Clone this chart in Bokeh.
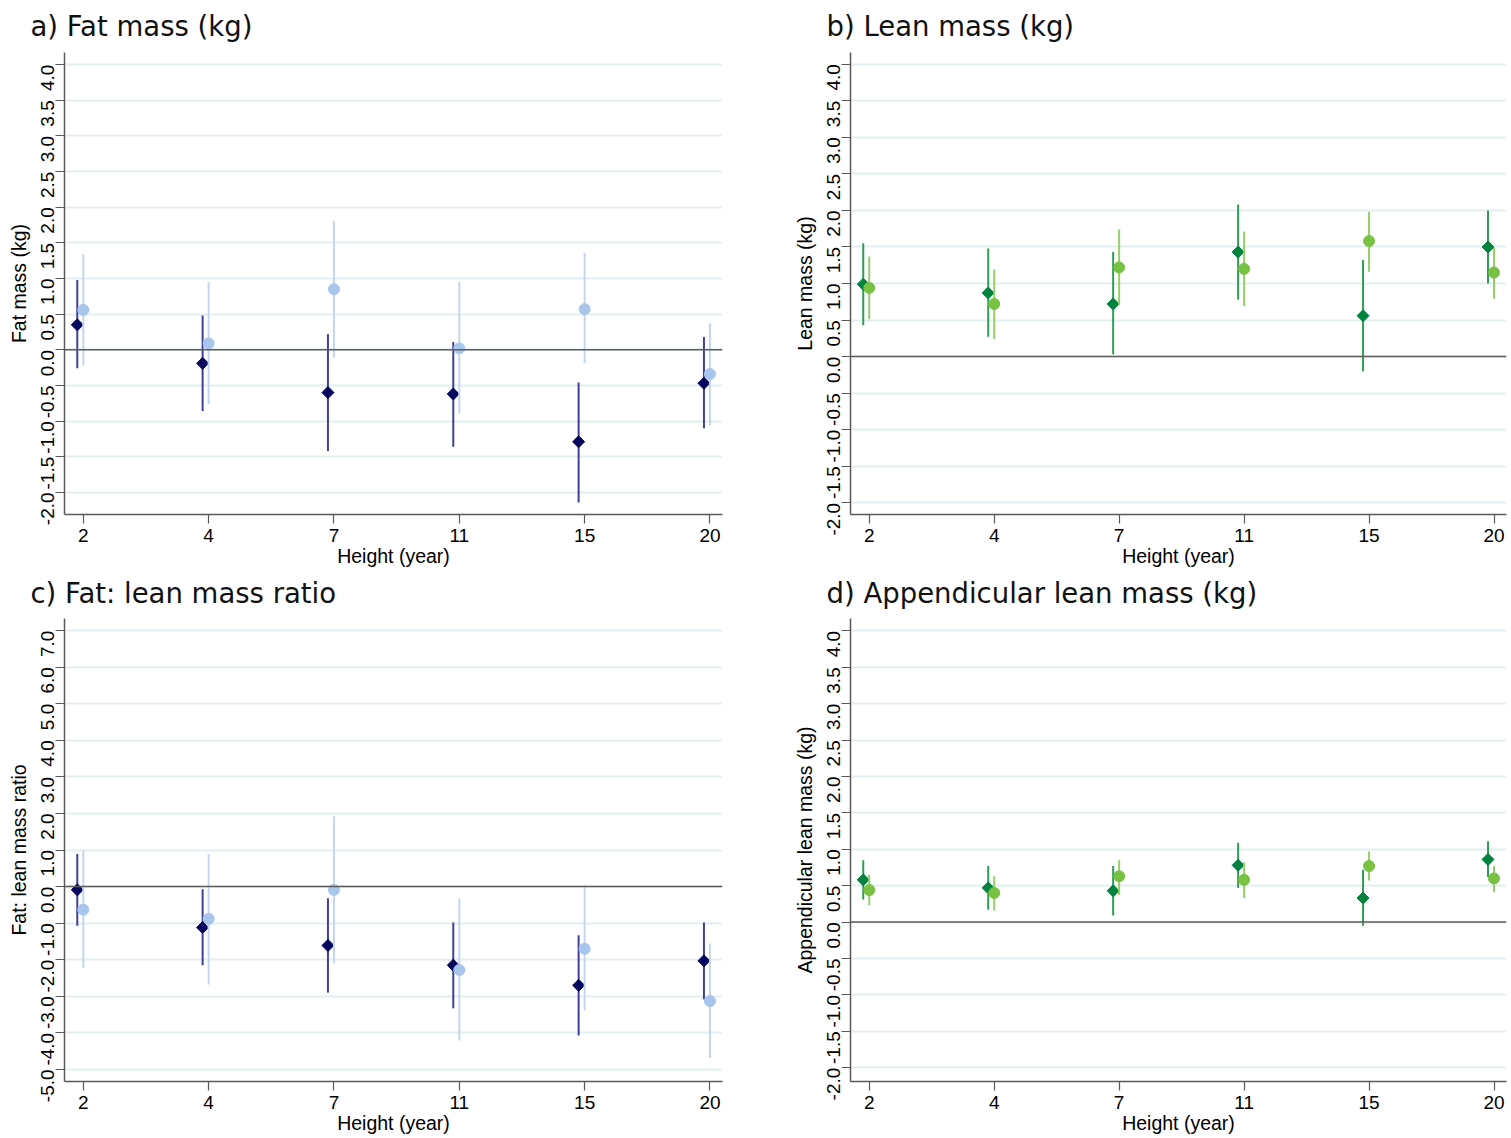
import numpy as np
from bokeh.plotting import figure
from bokeh.models import ColumnDataSource, Range1d, FixedTicker, NumeralTickFormatter, Span
from bokeh.layouts import column, row
from bokeh.embed import file_html
from bokeh.resources import INLINE
from bokeh.transform import dodge

# ---------------- data ----------------
years = ["2", "4", "7", "11", "15", "20"]

# a) Fat mass (kg)
fat_d = [0.35, -0.19, -0.60, -0.62, -1.29, -0.47]
fat_d_lo = [-0.26, -0.86, -1.42, -1.36, -2.14, -1.10]
fat_d_hi = [0.98, 0.48, 0.22, 0.11, -0.46, 0.18]
fat_c = [0.56, 0.09, 0.85, 0.02, 0.57, -0.34]
fat_c_lo = [-0.22, -0.76, -0.11, -0.89, -0.19, -1.06]
fat_c_hi = [1.34, 0.95, 1.81, 0.95, 1.36, 0.37]

# b) Lean mass (kg)
lean_d = [0.99, 0.87, 0.72, 1.43, 0.56, 1.50]
lean_d_lo = [0.43, 0.27, 0.03, 0.78, -0.20, 1.00]
lean_d_hi = [1.55, 1.48, 1.43, 2.08, 1.32, 2.00]
lean_c = [0.94, 0.72, 1.22, 1.20, 1.58, 1.15]
lean_c_lo = [0.51, 0.24, 0.71, 0.69, 1.16, 0.79]
lean_c_hi = [1.37, 1.19, 1.74, 1.71, 1.98, 1.49]

# c) Fat: lean mass ratio
ratio_d = [-0.09, -1.12, -1.61, -2.15, -2.70, -2.03]
ratio_d_lo = [-1.07, -2.15, -2.90, -3.33, -4.07, -3.08]
ratio_d_hi = [0.89, -0.07, -0.32, -0.98, -1.33, -0.98]
ratio_c = [-0.63, -0.88, -0.09, -2.28, -1.70, -3.13]
ratio_c_lo = [-2.23, -2.68, -2.10, -4.21, -3.38, -4.69]
ratio_c_hi = [0.98, 0.89, 1.92, -0.33, -0.01, -1.56]

# d) Appendicular lean mass (kg)
app_d = [0.58, 0.47, 0.43, 0.78, 0.33, 0.86]
app_d_lo = [0.31, 0.17, 0.09, 0.47, -0.05, 0.62]
app_d_hi = [0.85, 0.77, 0.77, 1.09, 0.72, 1.11]
app_c = [0.44, 0.40, 0.63, 0.58, 0.77, 0.60]
app_c_lo = [0.23, 0.16, 0.37, 0.33, 0.57, 0.41]
app_c_hi = [0.65, 0.63, 0.85, 0.82, 0.97, 0.77]

kg_ticks = [-2.0, -1.5, -1.0, -0.5, 0.0, 0.5, 1.0, 1.5, 2.0, 2.5, 3.0, 3.5, 4.0]
ratio_ticks = [-5.0, -4.0, -3.0, -2.0, -1.0, 0.0, 1.0, 2.0, 3.0, 4.0, 5.0, 6.0, 7.0]

blues = dict(d="#06065e", dbar="#40409a", c="#a8c5ec", cbar="#c3d6f1")
greens = dict(d="#00833e", dbar="#2f9e55", c="#78c142", cbar="#95d066")

AXIS_COL = "#5a5a5a"
TICK_FONT = "Liberation Sans"


def make_panel(title, ylabel, d, dlo, dhi, c, clo, chi, yr, yticks, cols,
               width, height, bl, br, bt, bb, toff, tstand):
    idx = list(range(len(years)))
    src = ColumnDataSource(dict(idx=idx, d=d, dlo=dlo, dhi=dhi, c=c, clo=clo, chi=chi))
    p = figure(width=width, height=height,
               x_range=Range1d(-0.15, 5.1), y_range=Range1d(*yr),
               output_backend="svg", toolbar_location=None,
               min_border_left=bl, min_border_right=br,
               min_border_top=bt, min_border_bottom=bb)
    p.outline_line_color = None
    p.background_fill_color = "white"
    p.border_fill_color = "white"

    # title
    p.title.text = title
    p.title.text_font = "DejaVu Sans"
    p.title.text_font_size = "27.5px"
    p.title.text_font_style = "normal"
    p.title.text_color = "#111111"
    p.title.text_line_height = 0.8
    p.title.offset = toff
    p.title.standoff = tstand
    p.title.vertical_align = "top"

    # grid
    p.xgrid.visible = False
    p.ygrid.ticker = FixedTicker(ticks=yticks)
    p.ygrid.grid_line_color = "#e4edf2"
    p.ygrid.grid_line_width = 2

    # zero line
    p.add_layout(Span(location=0, dimension="width", line_color="#5c5c5c", line_width=1.5))

    # axes
    for ax in (p.xaxis[0], p.yaxis[0]):
        ax.axis_line_color = AXIS_COL
        ax.axis_line_width = 1.5
        ax.major_tick_line_color = AXIS_COL
        ax.major_tick_line_width = 1.2
        ax.major_tick_out = 9
        ax.major_tick_in = 0
        ax.minor_tick_line_color = None
        ax.major_label_text_font = TICK_FONT
        ax.major_label_text_font_size = "19px"
        ax.major_label_text_color = "#000000"
        ax.axis_label_text_font = TICK_FONT
        ax.axis_label_text_font_size = "19.5px"
        ax.axis_label_text_font_style = "normal"
        ax.axis_label_text_color = "#000000"

    p.xaxis.ticker = FixedTicker(ticks=idx)
    p.xaxis.major_label_overrides = {i: y for i, y in enumerate(years)}
    p.xaxis.axis_label = "Height (year)"
    p.xaxis.major_label_standoff = 5
    p.xaxis.axis_label_standoff = 0

    p.yaxis.ticker = FixedTicker(ticks=yticks)
    p.yaxis.formatter = NumeralTickFormatter(format="0.0")
    p.yaxis.major_label_orientation = np.pi / 2
    p.yaxis.major_label_standoff = 8
    p.yaxis.axis_label = ylabel
    p.yaxis.axis_label_standoff = 2

    xd = dodge("idx", -0.048)
    xc = dodge("idx", 0.0)
    p.segment(x0=xd, y0="dlo", x1=xd, y1="dhi", source=src,
              line_color=cols["dbar"], line_width=2)
    p.scatter(x=xd, y="d", source=src, marker="square", angle=np.pi / 4, size=8.5,
              fill_color=cols["d"], line_color=cols["d"])
    p.segment(x0=xc, y0="clo", x1=xc, y1="chi", source=src,
              line_color=cols["cbar"], line_width=2)
    p.scatter(x=xc, y="c", source=src, marker="circle", size=11,
              fill_color=cols["c"], line_color=cols["c"])
    return p


pa = make_panel("a) Fat mass (kg)", "Fat mass (kg)",
                fat_d, fat_d_lo, fat_d_hi, fat_c, fat_c_lo, fat_c_hi,
                (-2.31, 4.17), kg_ticks, blues, 786, 569, 64, 64, 50, 54, -34, 18)
pb = make_panel("b) Lean mass (kg)", "Lean mass (kg)",
                lean_d, lean_d_lo, lean_d_hi, lean_c, lean_c_lo, lean_c_hi,
                (-2.16, 4.16), kg_ticks, greens, 722, 569, 64, 2, 50, 54, -24, 18)
pc = make_panel("c) Fat: lean mass ratio", "Fat: lean mass ratio",
                ratio_d, ratio_d_lo, ratio_d_hi, ratio_c, ratio_c_lo, ratio_c_hi,
                (-5.33, 7.33), ratio_ticks, blues, 786, 567, 64, 64, 46, 54, -34, 15)
pd_ = make_panel("d) Appendicular lean mass (kg)", "Appendicular lean mass (kg)",
                 app_d, app_d_lo, app_d_hi, app_c, app_c_lo, app_c_hi,
                 (-2.19, 4.17), kg_ticks, greens, 722, 567, 64, 2, 46, 54, -24, 15)

layout = column(row(pa, pb), row(pc, pd_))

with open("out.html", "w") as f:
    f.write(file_html(layout, INLINE))
